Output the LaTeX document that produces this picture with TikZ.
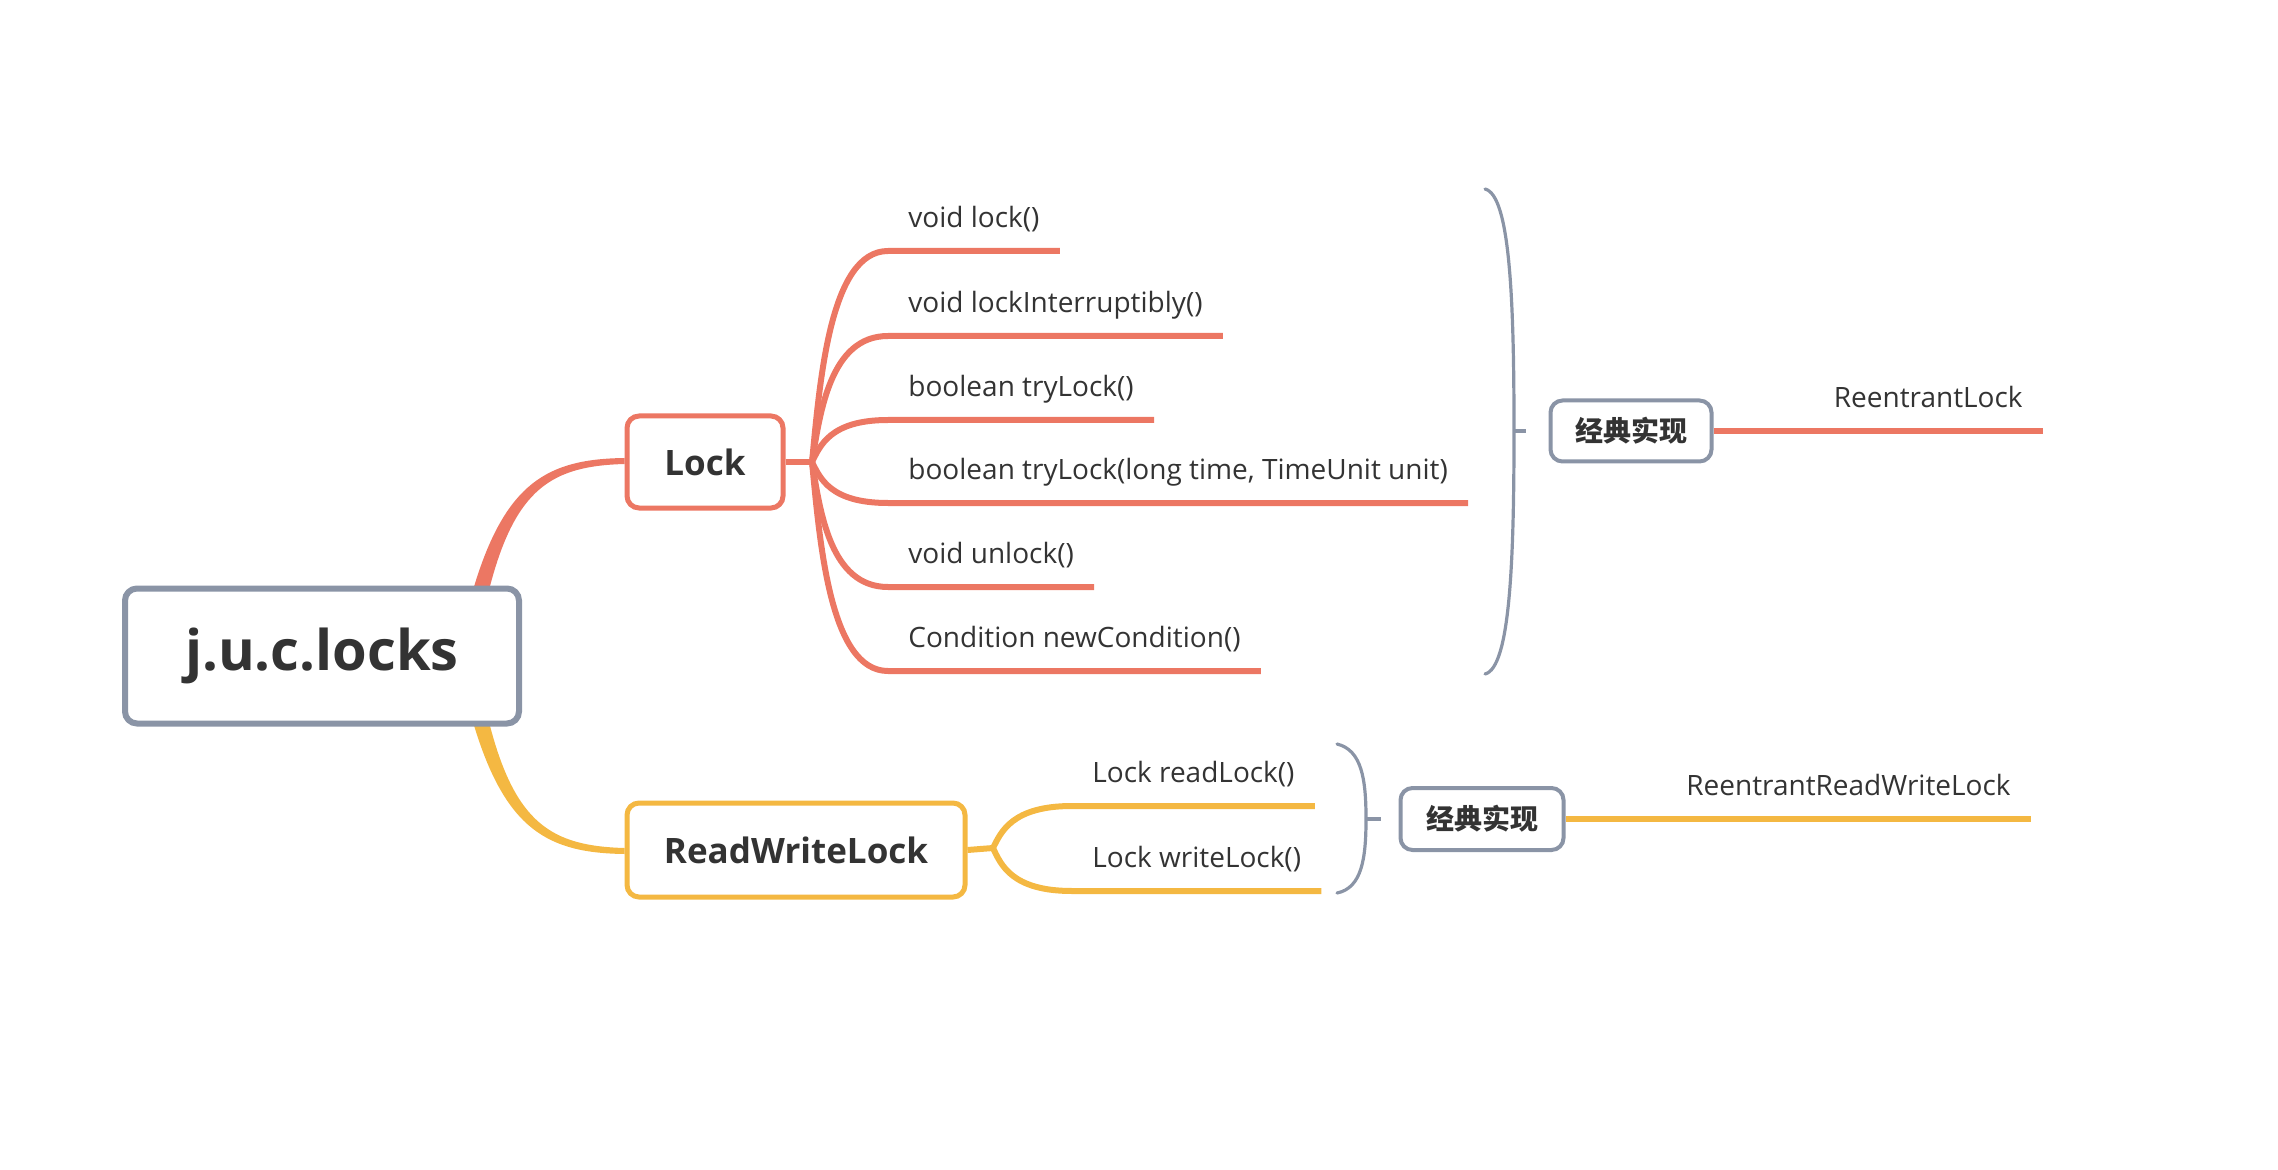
\documentclass[tikz,border=0pt]{standalone}
\usepackage{fontspec}
\setmainfont{Open Sans}
\newfontfamily\cjk{Noto Sans CJK SC}
\usepackage{xcolor}
\definecolor{lockred}{HTML}{EC7763}
\definecolor{rwyellow}{HTML}{F4B842}
\definecolor{linegray}{HTML}{8A94A6}
\definecolor{textdark}{HTML}{333333}

\tikzset{
  topic/.style={draw, rounded corners=6pt, fill=white, text=textdark,
    inner sep=0pt, font=\bfseries\fontsize{17.5}{21}\selectfont},
  leaf/.style={anchor=south west, text=textdark, inner xsep=10pt, inner ysep=8pt,
    text depth=3.5pt, font=\fontsize{14}{17}\selectfont},
  leafr/.style={leaf, anchor=south east},
  lockline/.style={lockred, line width=3pt},
  rwline/.style={rwyellow, line width=3pt},
  brace/.style={linegray, line width=1.6pt, line cap=round},
}

\begin{document}
\begin{tikzpicture}[x=0.5pt, y=-0.5pt]
\useasboundingbox (0,0) rectangle (2278,1170);

% Where the two main branches leave the root
\coordinate (rootup) at (481,590);
\coordinate (rootdown) at (481,722);

% Draw the second-level topics first, the root goes over the connectors
\node[topic, draw=lockred, line width=2.5pt, minimum width=78pt, minimum height=46pt] (lock) at (705,462) {Lock};
\node[topic, draw=rwyellow, line width=2.5pt, minimum width=169pt, minimum height=47pt] (rwlock) at (796,850) {ReadWriteLock};

% Draw the thick tapering connectors
\fill[lockred] ([xshift=-4pt]rootup) .. controls (505,482) and (548,459) .. ([yshift=2pt]lock.west)
  -- ([yshift=-1pt]lock.west) .. controls (552,466) and (515,488) .. ([xshift=4pt]rootup) -- cycle;
\fill[rwyellow] ([xshift=-4pt]rootdown) .. controls (505,830) and (548,853) .. ([yshift=-2pt]rwlock.west)
  -- ([yshift=1pt]rwlock.west) .. controls (552,846) and (515,824) .. ([xshift=4pt]rootdown) -- cycle;

% Draw the root
\node[topic, draw=linegray, line width=3pt, minimum width=197pt, minimum height=67.5pt,
  font=\bfseries\fontsize{28}{32}\selectfont] (root) at (322,656) {j.u.c.locks};

% Lock methods
\coordinate (lockfork) at (812,462);
\draw[lockline] (lock.east) -- (lockfork);
\node[leaf] (m1) at (888,251) {void lock()};
\node[leaf] (m2) at (888,336) {void lockInterruptibly()};
\node[leaf] (m3) at (888,420) {boolean tryLock()};
\node[leaf] (m4) at (888,503) {boolean tryLock(long time, TimeUnit unit)};
\node[leaf] (m5) at (888,587) {void unlock()};
\node[leaf] (m6) at (888,671) {Condition newCondition()};
\draw[lockline] (lockfork) .. controls +(8,-82) and +(-58,0) .. (m1.south west) -- (m1.south east);
\draw[lockline] (lockfork) .. controls +(8,-49) and +(-58,0) .. (m2.south west) -- (m2.south east);
\draw[lockline] (lockfork) .. controls +(8,-16) and +(-58,0) .. (m3.south west) -- (m3.south east);
\draw[lockline] (lockfork) .. controls +(8,16) and +(-58,0) .. (m4.south west) -- (m4.south east);
\draw[lockline] (lockfork) .. controls +(8,49) and +(-58,0) .. (m5.south west) -- (m5.south east);
\draw[lockline] (lockfork) .. controls +(8,82) and +(-58,0) .. (m6.south west) -- (m6.south east);

% Brace round the Lock methods
\draw[brace] (1485,189) .. controls (1510,195) and (1514,300) .. (1514,431)
  .. controls (1514,562) and (1510,668) .. (1485,674);
\draw[brace, line cap=butt] (1514,431) -- (1526,431);

% Classic implementation of Lock
\node[topic, draw=linegray, line width=2pt, minimum width=80.5pt, minimum height=30.5pt,
  font=\cjk\bfseries\fontsize{14}{17}\selectfont] (impl1) at (1631,431) {经典实现};
\node[leafr] (rl) at (2043,431) {ReentrantLock};
\draw[lockline] (impl1.east) -- (rl.south west) -- (rl.south east);

% ReadWriteLock methods
\coordinate (rwfork) at (993,848);
\draw[rwline] (rwlock.east) -- (rwfork);
\node[leaf] (r1) at (1072,806) {Lock readLock()};
\node[leaf] (r2) at (1072,891) {Lock writeLock()};
\draw[rwline] (rwfork) .. controls +(8,-16) and +(-60,0) .. (r1.south west) -- (r1.south east);
\draw[rwline] (rwfork) .. controls +(8,17) and +(-60,0) .. (r2.south west) -- (r2.south east);

% Brace round the ReadWriteLock methods
\draw[brace] (1337,744) .. controls (1362,750) and (1366,780) .. (1366,819)
  .. controls (1366,858) and (1362,888) .. (1337,893);
\draw[brace, line cap=butt] (1366,819) -- (1381,819);

% Classic implementation of ReadWriteLock
\node[topic, draw=linegray, line width=2pt, minimum width=81.5pt, minimum height=31pt,
  font=\cjk\bfseries\fontsize{14}{17}\selectfont] (impl2) at (1482,819) {经典实现};
\node[leafr] (rrwl) at (2031,819) {ReentrantReadWriteLock};
\draw[rwline] (impl2.east) -- (rrwl.south west) -- (rrwl.south east);
\end{tikzpicture}
\end{document}
